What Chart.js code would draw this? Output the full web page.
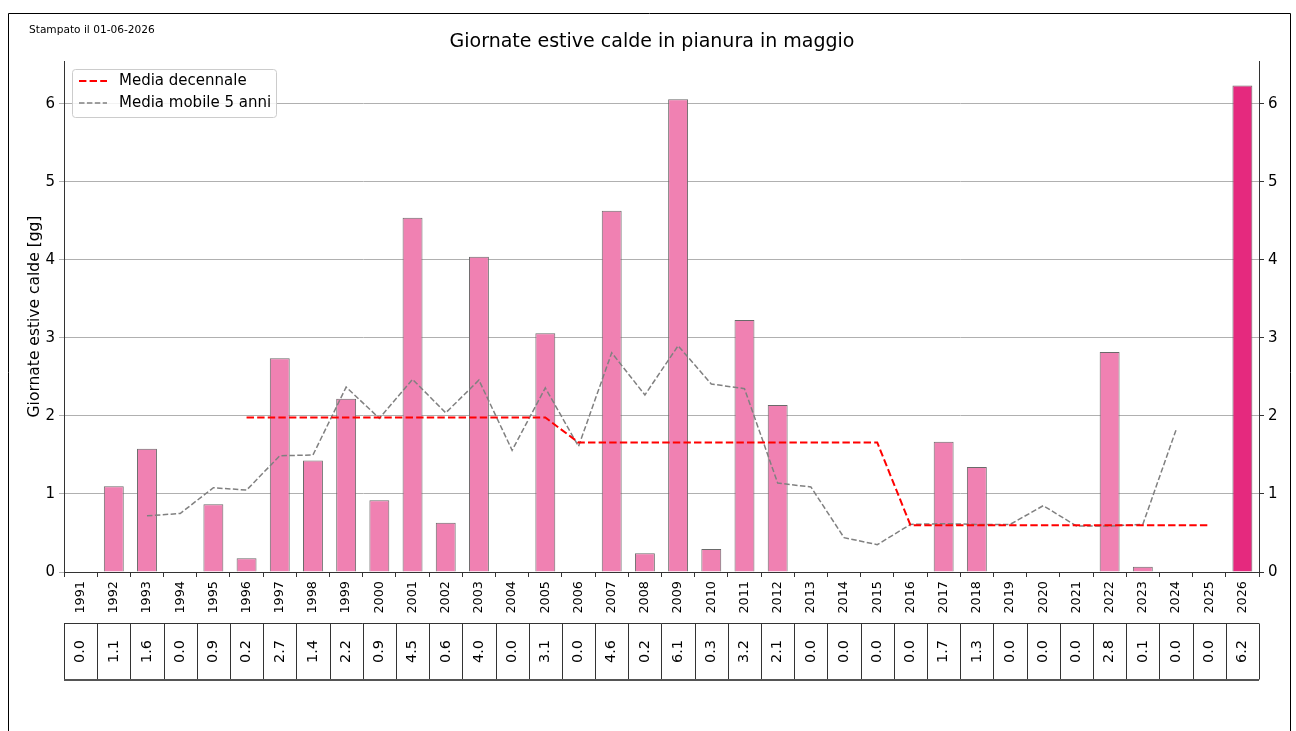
<!DOCTYPE html>
<html>
<head>
<meta charset="utf-8">
<script src="https://cdn.jsdelivr.net/npm/chart.js@4.4.1/dist/chart.umd.min.js"></script>
<style>
html,body{margin:0;padding:0;background:#fff;}
#wrap{width:1296px;height:731px;position:relative;}
</style>
</head>
<body>
<div id="wrap"><canvas id="c" width="1296" height="731"></canvas></div>
<script>
const years = ['1991','1992','1993','1994','1995','1996','1997','1998','1999','2000','2001','2002','2003','2004','2005','2006','2007','2008','2009','2010','2011','2012','2013','2014','2015','2016','2017','2018','2019','2020','2021','2022','2023','2024','2025','2026'];
const giornate = [0,1.10,1.58,0,0.87,0.175,2.74,1.43,2.22,0.92,4.54,0.63,4.04,0,3.06,0,4.63,0.24,6.06,0.295,3.23,2.14,0,0,0,0,1.67,1.345,0,0,0,2.82,0.068,0,0,6.235];
const mediaDecennale = [null,null,null,null,null,1.98,1.98,1.98,1.98,1.98,1.98,1.98,1.98,1.98,1.98,1.66,1.66,1.66,1.66,1.66,1.66,1.66,1.66,1.66,1.66,0.60,0.60,0.60,0.60,0.60,0.60,0.60,0.60,0.60,0.60,null];
const mediaMobile5 = [null,null,0.72,0.75,1.08,1.05,1.49,1.50,2.37,1.97,2.47,2.04,2.46,1.56,2.36,1.61,2.81,2.27,2.90,2.41,2.35,1.14,1.09,0.44,0.35,0.61,0.62,0.61,0.61,0.85,0.59,0.59,0.61,1.82,null,null];
const yTicks = [0,1,2,3,4,5,6];

const FONT = '"DejaVu Sans", sans-serif';
const barColors = years.map((y,i)=> i===years.length-1 ? '#e5297e' : '#f081b2');

const overlay = {
  id:'overlay',
  afterDraw(chart){
    const ctx = chart.ctx;
    const xs = chart.scales.x;
    const ca = chart.chartArea;
    ctx.save();
    // figure frame
    ctx.strokeStyle = '#000'; ctx.lineWidth = 1;
    ctx.beginPath();
    ctx.moveTo(8.5,731); ctx.lineTo(8.5,13.5); ctx.lineTo(1290.5,13.5); ctx.lineTo(1290.5,731);
    ctx.stroke();
    // stamp
    ctx.fillStyle = '#000';
    ctx.font = '10.6px ' + FONT;
    ctx.textAlign='left'; ctx.textBaseline='middle';
    ctx.fillText('Stampato il 01-06-2026', 29, 30);
    // title
    ctx.font = '19px ' + FONT;
    ctx.textAlign='center'; ctx.textBaseline='middle';
    ctx.fillText('Giornate estive calde in pianura in maggio', 652, 42);
    // y title
    ctx.save();
    ctx.translate(35, (ca.top+ca.bottom)/2);
    ctx.rotate(-Math.PI/2);
    ctx.font = '15.5px ' + FONT;
    ctx.fillText('Giornate estive calde [gg]', 0, 0);
    ctx.restore();
    // legend
    const lx=72.5, ly=69.5, lw=204, lh=48;
    ctx.fillStyle='rgba(255,255,255,0.85)';
    ctx.strokeStyle='#cccccc'; ctx.lineWidth=1;
    ctx.beginPath();
    if (ctx.roundRect) ctx.roundRect(lx,ly,lw,lh,3); else ctx.rect(lx,ly,lw,lh);
    ctx.fill(); ctx.stroke();
    ctx.lineWidth=2; ctx.strokeStyle='red'; ctx.setLineDash([7.4,3.2]);
    ctx.beginPath(); ctx.moveTo(79,81); ctx.lineTo(107,81); ctx.stroke();
    ctx.lineWidth=1.5; ctx.strokeStyle='#808080'; ctx.setLineDash([5.5,2.4]);
    ctx.beginPath(); ctx.moveTo(79,103); ctx.lineTo(107,103); ctx.stroke();
    ctx.setLineDash([]);
    ctx.fillStyle='#000'; ctx.font='15px '+FONT; ctx.textAlign='left'; ctx.textBaseline='middle';
    ctx.fillText('Media decennale', 119, 81);
    ctx.fillText('Media mobile 5 anni', 119, 103);
    // table
    const top=623.5, bot=679.5;
    const step = (xs.getPixelForValue(1)-xs.getPixelForValue(0));
    const x0 = xs.getPixelForValue(0)-step/2;
    const xN = xs.getPixelForValue(years.length-1)+step/2;
    ctx.strokeStyle='#333'; ctx.lineWidth=1;
    ctx.beginPath();
    ctx.moveTo(x0,top); ctx.lineTo(xN,top);
    for(let i=0;i<=years.length;i++){
      const xx = Math.round(x0+i*step)+0.5;
      ctx.moveTo(xx,top); ctx.lineTo(xx,bot);
    }
    ctx.stroke();
    ctx.lineWidth=2; ctx.strokeStyle='#555';
    ctx.beginPath(); ctx.moveTo(x0,bot+0.5); ctx.lineTo(xN,bot+0.5); ctx.stroke();
    ctx.fillStyle='#000'; ctx.font='14.5px '+FONT; ctx.textAlign='center'; ctx.textBaseline='middle';
    giornate.forEach((v,i)=>{
      const cx = xs.getPixelForValue(i);
      ctx.save();
      ctx.translate(cx,(top+bot)/2);
      ctx.rotate(-Math.PI/2);
      ctx.fillText(v.toFixed(1),0,0);
      ctx.restore();
    });
    ctx.restore();
  }
};

const yCommon = {
  min:0, max:6.55,
  afterBuildTicks(s){ s.ticks = yTicks.map(v=>({value:v})); },
  ticks:{ font:{family:FONT,size:15}, color:'#000', padding:4 }
};

new Chart(document.getElementById('c'),{
  data:{
    labels: years,
    datasets:[
      {type:'line', label:'Media decennale', data: mediaDecennale, borderColor:'red', borderWidth:2, borderDash:[7.4,3.2], pointRadius:0, tension:0, fill:false, yAxisID:'y', order:0},
      {type:'line', label:'Media mobile 5 anni', data: mediaMobile5, borderColor:'#808080', borderWidth:1.5, borderDash:[5.5,2.4], pointRadius:0, tension:0, fill:false, yAxisID:'y', order:1},
      {type:'bar', label:'Giornate', data: giornate, backgroundColor: barColors, borderColor:'#6a6a6a', borderWidth:1, barPercentage:0.6, categoryPercentage:1.0, yAxisID:'y', order:2}
    ]
  },
  options:{
    responsive:false, animation:false, devicePixelRatio:1,
    layout:{padding:{left:0,right:0,top:61,bottom:109}},
    plugins:{legend:{display:false}, title:{display:false}, tooltip:{enabled:false}},
    scales:{
      x:{
        type:'category', offset:true,
        grid:{display:true, drawOnChartArea:false, drawTicks:true, tickLength:5, color:'#333'},
        border:{display:true,color:'#333'},
        ticks:{font:{family:FONT,size:12.8}, color:'#000', minRotation:90, maxRotation:90, autoSkip:false, padding:4},
        afterFit(s){ s.height=50; s.paddingLeft=0; s.paddingRight=0; }
      },
      y:Object.assign({}, yCommon, {
        position:'left',
        grid:{display:true, drawOnChartArea:true, drawTicks:true, tickLength:5, color:'#b0b0b0'},
        border:{display:true,color:'#333'},
        afterFit(s){ s.width=64; }
      }),
      y2:Object.assign({}, yCommon, {
        position:'right',
        grid:{display:true, drawOnChartArea:false, drawTicks:true, tickLength:5, color:'#333'},
        border:{display:true,color:'#333'},
        afterFit(s){ s.width=37; }
      })
    }
  },
  plugins:[overlay]
});
</script>
</body>
</html>
